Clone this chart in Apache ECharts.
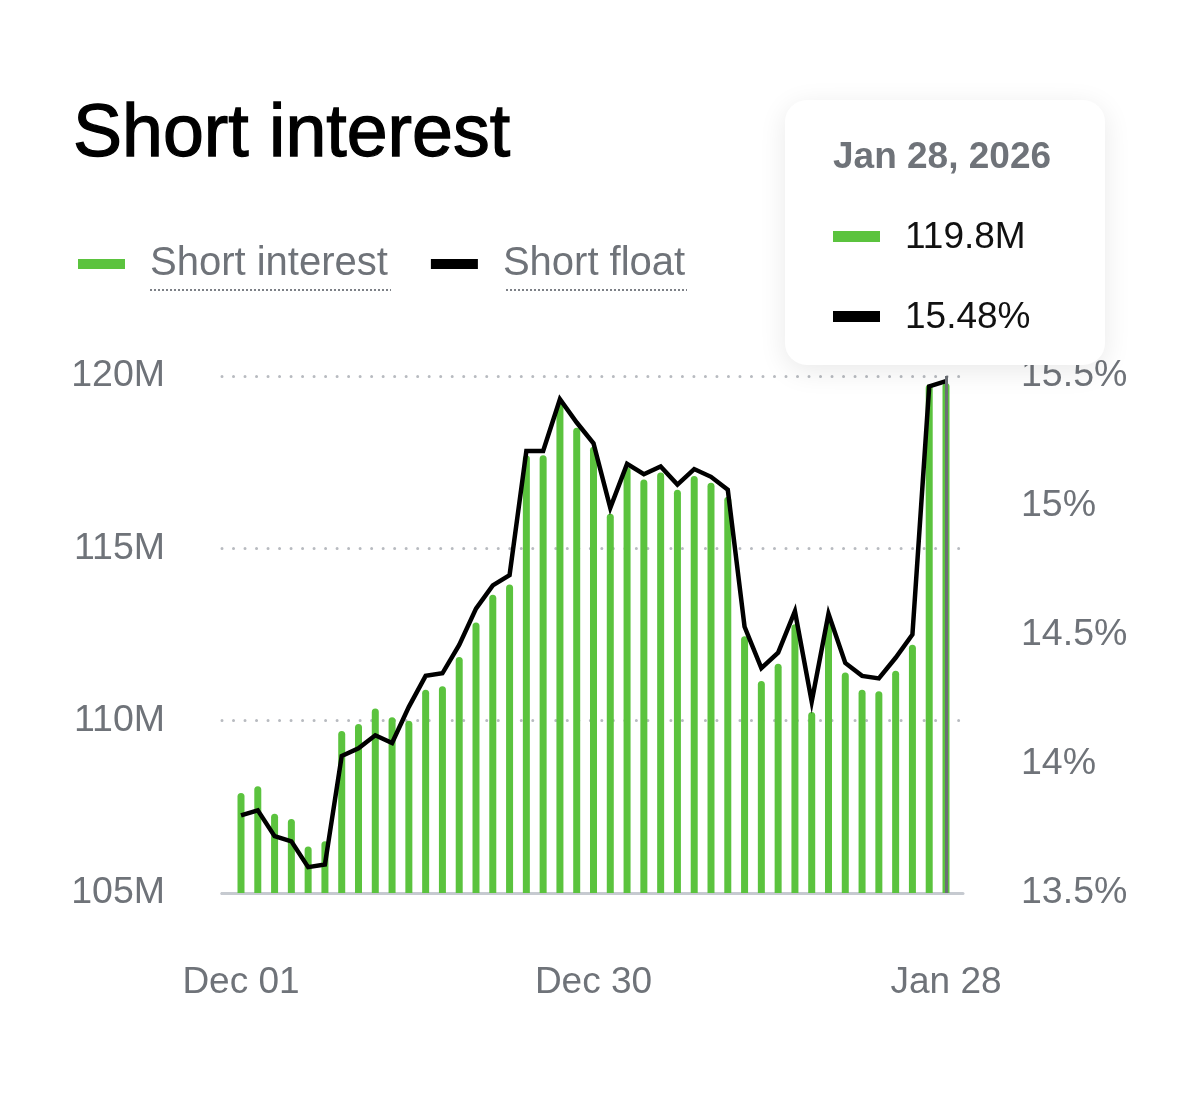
<!DOCTYPE html>
<html>
<head>
<meta charset="utf-8">
<script src="https://cdn.jsdelivr.net/npm/echarts@6/dist/echarts.min.js"></script>
<style>
  html, body { margin: 0; padding: 0; background: #ffffff; }
  #chart { width: 1200px; height: 1118px; }
</style>
</head>
<body>
<div id="chart"></div>
<script>
// ---- data (weekdays Dec 1, 2025 – Jan 28, 2026) ----
var dates = [
  'Dec 01, 2025','Dec 02, 2025','Dec 03, 2025','Dec 04, 2025','Dec 05, 2025',
  'Dec 08, 2025','Dec 09, 2025','Dec 10, 2025','Dec 11, 2025','Dec 12, 2025',
  'Dec 15, 2025','Dec 16, 2025','Dec 17, 2025','Dec 18, 2025','Dec 19, 2025',
  'Dec 22, 2025','Dec 23, 2025','Dec 24, 2025','Dec 25, 2025','Dec 26, 2025',
  'Dec 29, 2025','Dec 30, 2025','Dec 31, 2025',
  'Jan 01, 2026','Jan 02, 2026','Jan 05, 2026','Jan 06, 2026','Jan 07, 2026',
  'Jan 08, 2026','Jan 09, 2026','Jan 12, 2026','Jan 13, 2026','Jan 14, 2026',
  'Jan 15, 2026','Jan 16, 2026','Jan 19, 2026','Jan 20, 2026','Jan 21, 2026',
  'Jan 22, 2026','Jan 23, 2026','Jan 26, 2026','Jan 27, 2026','Jan 28, 2026'
];
// Short interest, millions of shares
var shortInterest = [
  107.9, 108.1, 107.3, 107.15, 106.35, 106.5, 109.7, 109.9, 110.35, 110.1,
  110.0, 110.9, 111.0, 111.85, 112.85, 113.65, 113.95, 117.7, 117.7, 119.2,
  118.5, 117.95, 116.0, 117.35, 117.0, 117.2, 116.7, 117.1, 116.9, 116.5,
  112.45, 111.15, 111.65, 112.8, 110.25, 112.9, 111.4, 110.9, 110.85, 111.45,
  112.2, 119.75, 119.8
];
// Short float, percent
var shortFloat = [
  13.80, 13.82, 13.72, 13.70, 13.60, 13.61, 14.03, 14.06, 14.11, 14.08,
  14.22, 14.34, 14.35, 14.46, 14.60, 14.69, 14.73, 15.21, 15.21, 15.41,
  15.32, 15.24, 14.99, 15.16, 15.12, 15.15, 15.08, 15.14, 15.11, 15.06,
  14.53, 14.37, 14.43, 14.59, 14.24, 14.58, 14.39, 14.34, 14.33, 14.41,
  14.50, 15.46, 15.48
];
var xTickIndices = [0, 21, 42];           // Dec 01, Dec 30, Jan 28
var leftTicks = { min: 105, max: 120, interval: 5 };
var rightTicks = { min: 13.5, max: 15.5, interval: 0.5 };
var seriesNames = ['Short interest', 'Short float'];

// ---- styles ----
var GREEN = '#5bc33e';
var GRAY_TEXT = '#6f7379';
var FONT = "'Liberation Sans', Arial, Helvetica, sans-serif";
var hoverIndex = dates.length - 1;

var siData = shortInterest.map(function (v, i) { return [i, v]; });
var sfData = shortFloat.map(function (v, i) { return [i, v]; });

var chart = echarts.init(document.getElementById('chart'), null, { renderer: 'canvas' });

function tooltipHtml(idx) {
  var marker = function (c) {
    return '<span style="display:inline-block;width:47px;height:11px;background:' + c +
      ';vertical-align:middle;margin-right:25px;position:relative;top:-2px;"></span>';
  };
  return '<div style="font-family:' + FONT.replace(/'/g, '&quot;') + ';">' +
    '<div style="font-size:37px;line-height:36px;font-weight:bold;color:' + GRAY_TEXT + ';">' + dates[idx] + '</div>' +
    '<div style="margin-top:44px;font-size:37px;line-height:36px;color:#111;">' + marker(GREEN) + shortInterest[idx].toFixed(1) + 'M</div>' +
    '<div style="margin-top:44px;font-size:37px;line-height:36px;color:#111;">' + marker('#000') + shortFloat[idx].toFixed(2) + '%</div>' +
    '</div>';
}

var option = {
  animation: false,
  backgroundColor: '#ffffff',
  textStyle: { fontFamily: FONT },
  title: {
    text: 'Short interest',
    left: 73,
    top: 99,
    padding: 0,
    textStyle: {
      fontFamily: FONT, fontSize: 73.5, lineHeight: 74, fontWeight: 'normal', color: '#000',
      textBorderColor: '#000', textBorderWidth: 1.3
    }
  },
  legend: {
    left: 78,
    top: 244,
    padding: 0,
    itemWidth: 47,
    itemHeight: 10,
    itemGap: 43,
    icon: 'rect',
    selectedMode: false,
    data: [
      { name: seriesNames[0], itemStyle: { color: GREEN } },
      { name: seriesNames[1], itemStyle: { color: '#000' } }
    ],
    textStyle: { fontFamily: FONT, fontSize: 40, lineHeight: 40, color: GRAY_TEXT, padding: [0, 0, 0, 20] }
  },
  grid: { left: 222, right: 237, top: 376, bottom: 225, containLabel: false },
  tooltip: {
    trigger: 'axis',
    triggerOn: 'none',
    alwaysShowContent: true,
    transitionDuration: 0,
    backgroundColor: '#ffffff',
    borderWidth: 0,
    padding: [38, 48, 31, 48],
    extraCssText: 'border-radius:22px;box-shadow:0 6px 28px rgba(0,0,0,0.09);width:224px;',
    position: function () { return [785, 100]; },
    formatter: function (params) {
      var idx = params && params.length ? params[0].dataIndex : hoverIndex;
      return tooltipHtml(idx);
    },
    axisPointer: {
      type: 'line',
      label: { show: false },
      lineStyle: { color: '#6b6f75', width: 3, type: 'solid' }
    }
  },
  xAxis: {
    type: 'value',
    min: -1.132,
    max: 43.013,
    axisLine: { show: true, lineStyle: { color: '#c6cad0', width: 3 } },
    axisTick: { show: false },
    splitLine: { show: false },
    axisPointer: { snap: true },
    axisLabel: {
      customValues: xTickIndices,
      margin: 71,
      fontFamily: FONT,
      fontSize: 37,
      lineHeight: 37,
      color: GRAY_TEXT,
      formatter: function (v) { return dates[Math.round(v)].split(',')[0]; }
    }
  },
  yAxis: [
    {
      type: 'value',
      min: leftTicks.min,
      max: leftTicks.max,
      interval: leftTicks.interval,
      axisLine: { show: false },
      axisTick: { show: false },
      splitLine: { show: true, lineStyle: { color: '#b8bbc0', width: 3, type: [0.01, 11.5], cap: 'round' } },
      axisLabel: {
        margin: 57,
        fontFamily: FONT,
        fontSize: 37.5,
        lineHeight: 38,
        padding: [5, 0, 0, 0],
        color: GRAY_TEXT,
        formatter: function (v) { return v + 'M'; }
      }
    },
    {
      type: 'value',
      min: rightTicks.min,
      max: rightTicks.max,
      interval: rightTicks.interval,
      axisLine: { show: false },
      axisTick: { show: false },
      splitLine: { show: false },
      axisLabel: {
        margin: 58,
        fontFamily: FONT,
        fontSize: 37.5,
        lineHeight: 38,
        padding: [5, 0, 0, 0],
        color: GRAY_TEXT,
        formatter: function (v) { return (+v.toFixed(1)) + '%'; }
      }
    }
  ],
  graphic: [
    { type: 'line', shape: { x1: 150, y1: 290, x2: 391, y2: 290 }, style: { stroke: '#7d8187', lineWidth: 2, lineDash: [2, 2] }, silent: true },
    { type: 'line', shape: { x1: 506, y1: 290, x2: 687, y2: 290 }, style: { stroke: '#7d8187', lineWidth: 2, lineDash: [2, 2] }, silent: true }
  ],
  series: [
    {
      name: seriesNames[0],
      type: 'bar',
      yAxisIndex: 0,
      barWidth: 7,
      itemStyle: { color: GREEN, borderRadius: [4, 4, 0, 0] },
      emphasis: { disabled: true },
      data: siData,
      z: 2
    },
    {
      name: seriesNames[1],
      type: 'line',
      yAxisIndex: 1,
      symbol: 'none',
      showSymbol: false,
      lineStyle: { color: '#000', width: 4.5, join: 'miter' },
      itemStyle: { color: '#000' },
      emphasis: { disabled: true },
      data: sfData,
      z: 3
    }
  ]
};

chart.setOption(option);
chart.dispatchAction({ type: 'showTip', seriesIndex: 0, dataIndex: hoverIndex });
</script>
</body>
</html>
